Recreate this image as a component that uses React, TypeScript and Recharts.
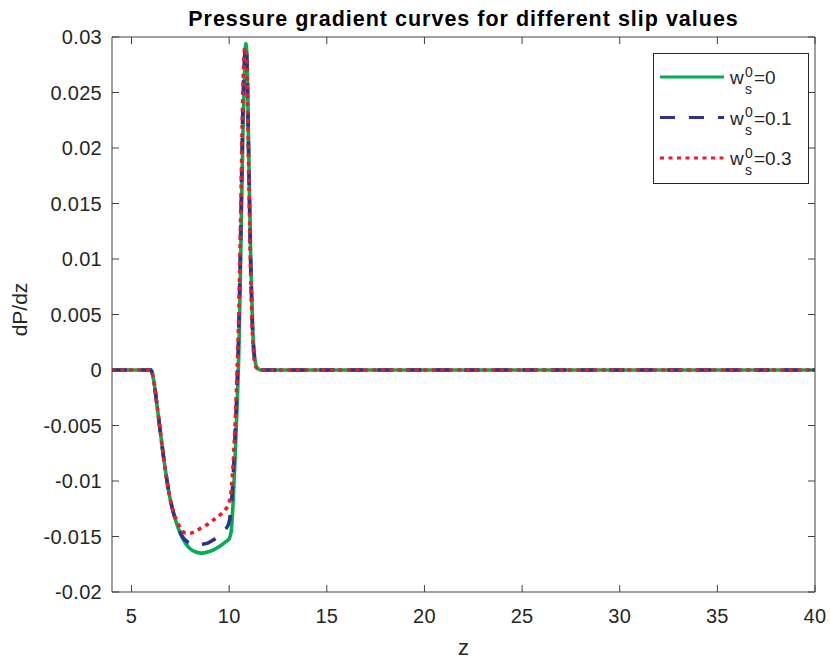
import React from 'react';
import { LineChart, Line, XAxis, YAxis, Legend } from 'recharts';

// z positions along the tube
const zValues = [
    4, 6.0, 6.1, 6.2, 6.3, 6.4, 6.6, 6.8, 7.0, 7.2, 7.4, 7.6, 7.8, 8.0, 8.3, 8.6, 8.9, 9.2, 9.5, 9.8,
    10.0, 10.1, 10.2, 10.3, 10.4, 10.5, 10.6, 10.7, 10.8, 10.85, 10.9, 11.0, 11.1, 11.2, 11.3, 11.4,
    11.5, 11.6, 40,
];

// dP/dz for w_s^0 = 0
const slip0 = [
    0, 0, -0.0006, -0.0017, -0.0031, -0.0045, -0.0073, -0.0098, -0.0118, -0.0132, -0.0143, -0.0151,
    -0.0157, -0.0161, -0.0164, -0.0165, -0.0164, -0.0162, -0.0159, -0.0155, -0.0152, -0.0146, -0.012,
    -0.008, -0.0035, 0.002, 0.011, 0.021, 0.0277, 0.0294, 0.0287, 0.02, 0.0105, 0.004, 0.0012, 0.0003,
    0.0001, 0, 0,
];

// dP/dz for w_s^0 = 0.1
const slip01 = [
    0, 0, -0.0006, -0.0017, -0.0031, -0.0045, -0.0073, -0.0098, -0.0118, -0.0132, -0.0142, -0.015,
    -0.0154, -0.0156, -0.0158, -0.0157, -0.0156, -0.0153, -0.0149, -0.0144, -0.0137, -0.0123, -0.0098,
    -0.006, -0.0015, 0.0045, 0.0135, 0.0235, 0.0285, 0.0292, 0.0282, 0.019, 0.0095, 0.0035, 0.001, 0.0003,
    0.0001, 0, 0,
];

// dP/dz for w_s^0 = 0.3
const slip03 = [
    0, 0, -0.0006, -0.0017, -0.0031, -0.0045, -0.0073, -0.0098, -0.0118, -0.0131, -0.0139, -0.0145,
    -0.0147, -0.0147, -0.0145, -0.0142, -0.0139, -0.0135, -0.0131, -0.0126, -0.0119, -0.0109, -0.0086,
    -0.005, -0.0005, 0.0055, 0.015, 0.025, 0.029, 0.029, 0.0277, 0.018, 0.0088, 0.003, 0.0008, 0.0002,
    0.0001, 0, 0,
];

const xTicks = [5, 10, 15, 20, 25, 30, 35, 40];
const yTicks = [-0.02, -0.015, -0.01, -0.005, 0, 0.005, 0.01, 0.015, 0.02, 0.025, 0.03];

const series = [
    { key: 'slip0', label: '0', color: '#00b050', dash: undefined },
    { key: 'slip01', label: '0.1', color: '#2e3192', dash: '15 14' },
    { key: 'slip03', label: '0.3', color: '#ed1c24', dash: '4 4.5' },
];

const data = zValues.map((z, i) => ({
    z,
    slip0: slip0[i],
    slip01: slip01[i],
    slip03: slip03[i],
}));

const FONT = '"Liberation Sans", Arial, Helvetica, sans-serif';
const AXIS = '#404040';
const TEXT = '#262626';
const TICK = 7;

const fmt = (v: number) => String(Number(v.toFixed(3)));

const BottomTick = (props: any) => {
    const { x, y, payload } = props;
    return (
        <g>
            <line x1={x} y1={y} x2={x} y2={y - TICK} stroke={AXIS} />
            <text x={x} y={y + 31} textAnchor="middle" fontSize={20} letterSpacing={0.3} fill={TEXT} fontFamily={FONT}>
                {payload.value}
            </text>
        </g>
    );
};

const LeftTick = (props: any) => {
    const { x, y, payload } = props;
    return (
        <g>
            <line x1={x} y1={y} x2={x + TICK} y2={y} stroke={AXIS} />
            <text x={x - 10} y={y + 7} textAnchor="end" fontSize={20} letterSpacing={0.3} fill={TEXT} fontFamily={FONT}>
                {fmt(payload.value)}
            </text>
        </g>
    );
};

const TopTick = (props: any) => {
    const { x, y } = props;
    return <line x1={x} y1={y} x2={x} y2={y + TICK} stroke={AXIS} />;
};

const RightTick = (props: any) => {
    const { x, y } = props;
    return <line x1={x} y1={y} x2={x - TICK} y2={y} stroke={AXIS} />;
};

const LegendBox = () => (
    <svg width={156} height={131} style={{ display: 'block' }}>
        <rect x={0.5} y={0.5} width={155} height={130} fill="#fff" stroke={TEXT} strokeWidth={1} />
        {series.map((s, i) => {
            const cy = 24 + i * 40.5;
            return (
                <g key={s.key} fontFamily={FONT} fill={TEXT}>
                    <line x1={7} y1={cy} x2={71} y2={cy} stroke={s.color} strokeWidth={3} strokeDasharray={s.dash} />
                    <text x={77} y={cy + 7} fontSize={19}>w</text>
                    <text x={92} y={cy - 0.5} fontSize={14}>0</text>
                    <text x={92} y={cy + 17} fontSize={14}>s</text>
                    <text x={101} y={cy + 7} fontSize={19}>={s.label}</text>
                </g>
            );
        })}
    </svg>
);

export default function App() {
    return (
        <div style={{ position: 'absolute', left: 0, top: 0, width: 830, height: 664, background: '#fff' }}>
            <div
                style={{
                    position: 'absolute',
                    top: 9,
                    left: 112,
                    width: 703,
                    textAlign: 'center',
                    fontFamily: FONT,
                    fontWeight: 'bold',
                    fontSize: 21.5,
                    lineHeight: 1,
                    letterSpacing: 1,
                    color: '#000',
                    zIndex: 2,
                }}
            >
                Pressure gradient curves for different slip values
            </div>
            <LineChart
                width={830}
                height={664}
                data={data}
                margin={{ top: 36, right: 14, bottom: 0, left: 0 }}
            >
                <XAxis
                    dataKey="z"
                    type="number"
                    domain={[4, 40]}
                    ticks={xTicks}
                    allowDataOverflow
                    height={72}
                    stroke={AXIS}
                    tickSize={0}
                    tickMargin={0}
                    tick={<BottomTick />}
                    label={{
                        value: 'z',
                        position: 'insideBottom',
                        offset: 9,
                        fontSize: 22,
                        fill: TEXT,
                        fontFamily: FONT,
                    }}
                />
                <XAxis
                    xAxisId="top"
                    dataKey="z"
                    type="number"
                    orientation="top"
                    domain={[4, 40]}
                    ticks={xTicks}
                    allowDataOverflow
                    height={1}
                    stroke={AXIS}
                    tickSize={0}
                    tickMargin={0}
                    tick={<TopTick />}
                />
                <YAxis
                    type="number"
                    domain={[-0.02, 0.03]}
                    ticks={yTicks}
                    allowDataOverflow
                    width={112}
                    stroke={AXIS}
                    tickSize={0}
                    tickMargin={0}
                    tick={<LeftTick />}
                    label={{
                        value: 'dP/dz',
                        angle: -90,
                        position: 'insideLeft',
                        offset: 20,
                        dy: -5,
                        fontSize: 21,
                        fill: TEXT,
                        fontFamily: FONT,
                        style: { textAnchor: 'middle' },
                    }}
                />
                <YAxis
                    yAxisId="right"
                    type="number"
                    orientation="right"
                    domain={[-0.02, 0.03]}
                    ticks={yTicks}
                    allowDataOverflow
                    width={1}
                    stroke={AXIS}
                    tickSize={0}
                    tickMargin={0}
                    tick={<RightTick />}
                />
                <Legend
                    layout="horizontal"
                    align="center"
                    verticalAlign="middle"
                    content={<LegendBox />}
                    wrapperStyle={{ top: 53, left: 653, width: 156, height: 131 }}
                />
                {/* invisible series so the box axes (top/right) get drawn */}
                <Line
                    xAxisId="top"
                    yAxisId="right"
                    dataKey="slip0"
                    stroke="none"
                    dot={false}
                    activeDot={false}
                    legendType="none"
                    isAnimationActive={false}
                />
                {series.map((s) => (
                    <Line
                        key={s.key}
                        dataKey={s.key}
                        type="monotone"
                        stroke={s.color}
                        strokeWidth={3.6}
                        strokeDasharray={s.dash}
                        dot={false}
                        activeDot={false}
                        isAnimationActive={false}
                    />
                ))}
            </LineChart>
        </div>
    );
}
